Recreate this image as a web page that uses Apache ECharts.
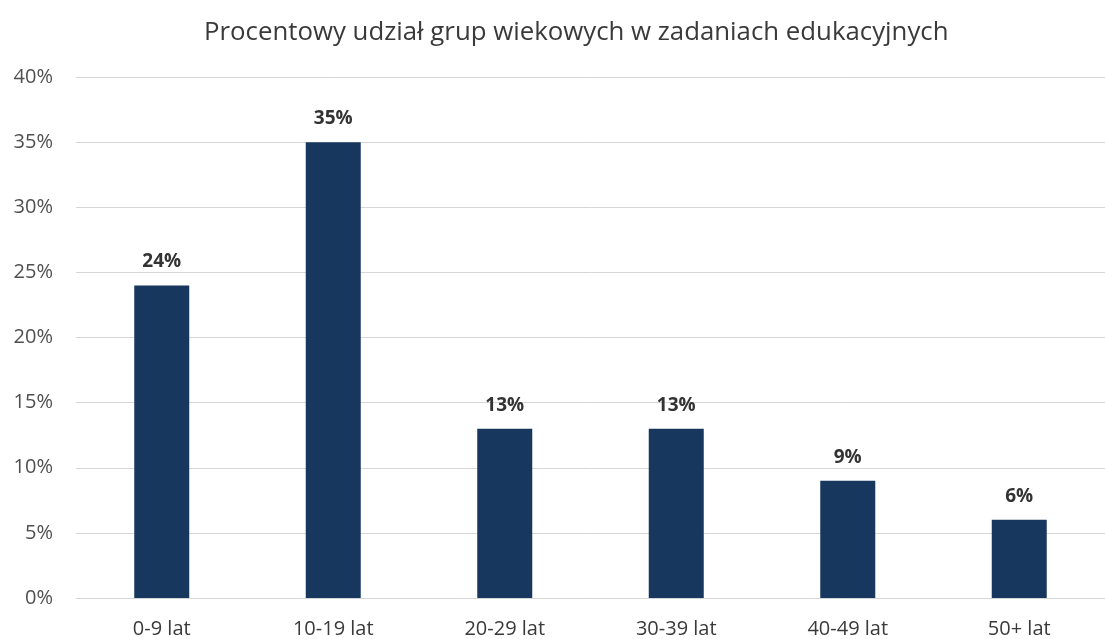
<!DOCTYPE html>
<html>
<head>
<meta charset="utf-8">
<script src="https://cdn.jsdelivr.net/npm/echarts@6/dist/echarts.min.js"></script>
<style>html,body{margin:0;padding:0;background:#fff;}#c{width:1105px;height:639px;}</style>
</head>
<body>
<div id="c"></div>
<script>
const categories = ['0-9 lat', '10-19 lat', '20-29 lat', '30-39 lat', '40-49 lat', '50+ lat'];
const values = [24, 35, 13, 13, 9, 6];
const yTicks = [0, 5, 10, 15, 20, 25, 30, 35, 40];

const chart = echarts.init(document.getElementById('c'));
chart.setOption({
  animation: false,
  backgroundColor: '#ffffff',
  title: {
    text: 'Procentowy udział grup wiekowych w zadaniach edukacyjnych',
    left: 199,
    top: 15,
    textStyle: { fontFamily: 'Open Sans', fontWeight: 'normal', fontSize: 25.8, color: '#3a3a3a' }
  },
  grid: { left: 76, top: 77, width: 1041, height: 521 },
  xAxis: {
    type: 'category',
    data: categories,
    axisLine: { show: false },
    axisTick: { show: false },
    axisLabel: { fontFamily: 'Open Sans', fontSize: 20, color: '#3a3a3a', margin: 21 }
  },
  yAxis: {
    type: 'value',
    min: yTicks[0],
    max: yTicks[yTicks.length - 1],
    interval: 5,
    axisLine: { show: false },
    axisTick: { show: false },
    splitLine: { lineStyle: { color: '#d6d6d6', width: 1 } },
    axisLabel: { fontFamily: 'Open Sans', fontSize: 20, color: '#505050', margin: 23, formatter: v => v + '%' }
  },
  series: [{
    type: 'bar',
    data: values,
    barWidth: 55,
    itemStyle: { color: '#17375e' },
    label: {
      show: true,
      position: 'top',
      distance: 14,
      formatter: p => p.value + '%',
      fontFamily: 'Open Sans',
      fontWeight: 'bold',
      fontSize: 19,
      color: '#333333'
    }
  }]
});
</script>
</body>
</html>
